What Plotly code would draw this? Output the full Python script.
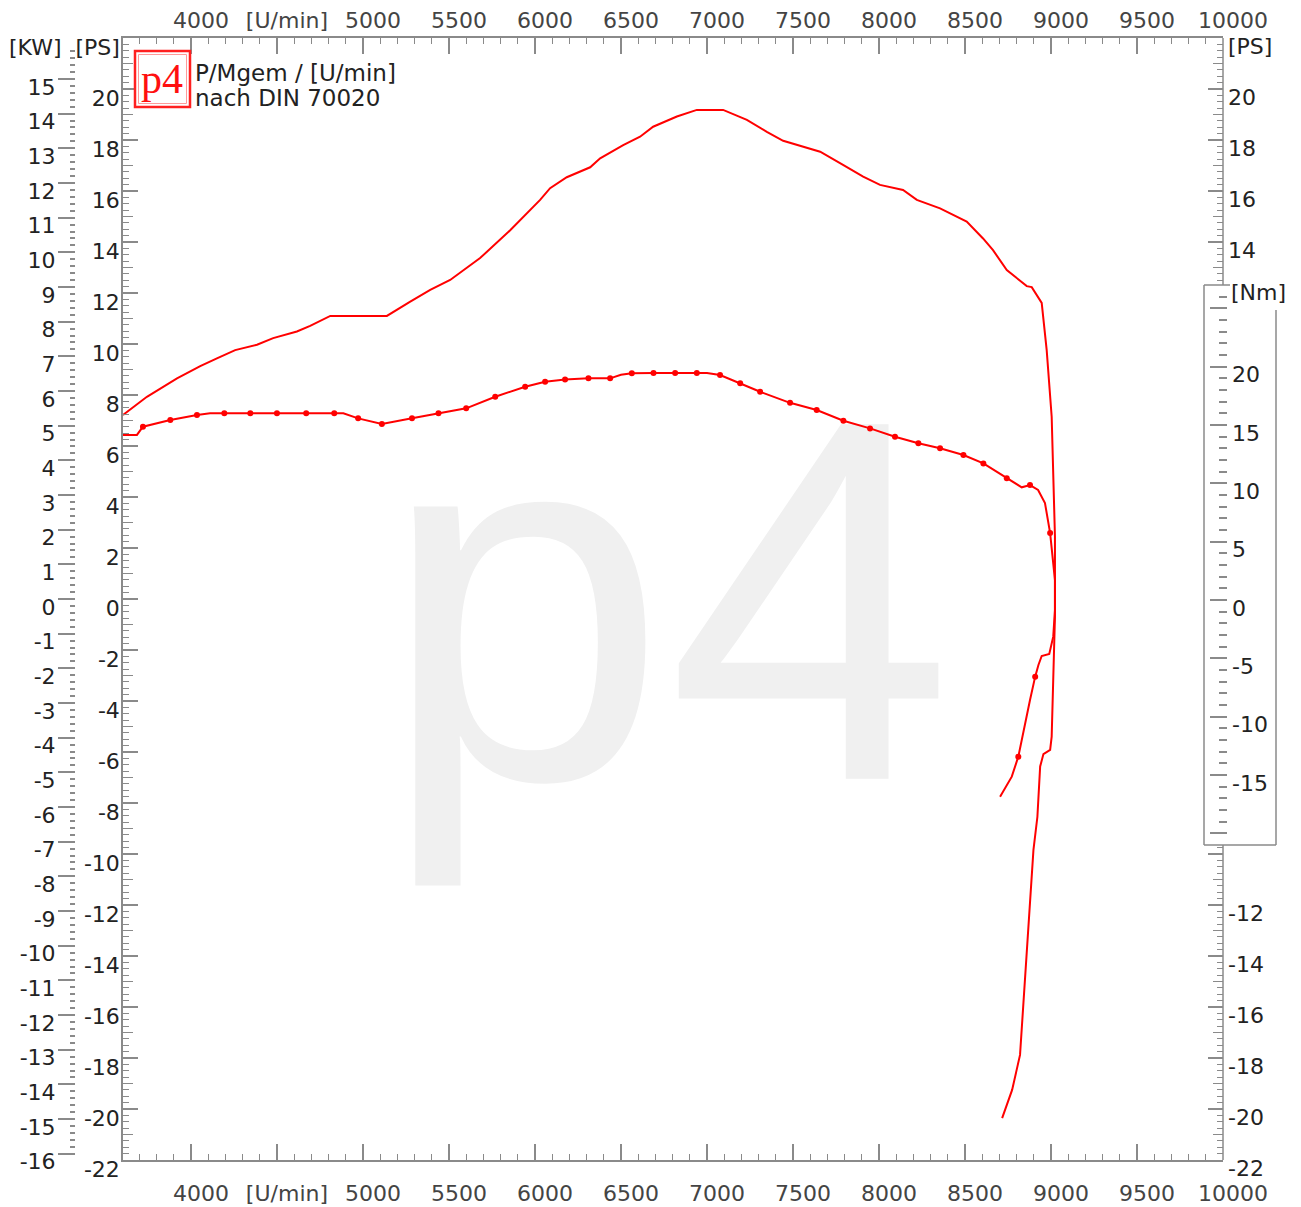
import plotly.graph_objects as go

# ---------------- data ----------------
power_rpm = [3605, 3744, 3919, 4054, 4151, 4257, 4384, 4478, 4616, 4693, 4810, 5139, 5275, 5391,
             5507, 5681, 5856, 6030, 6088, 6185, 6321, 6379, 6513, 6611, 6687, 6825, 6941, 7094,
             7232, 7348, 7443, 7658, 7791, 7908, 8006, 8140, 8220, 8355, 8510, 8605, 8663, 8743,
             8859, 8888, 8946, 8975, 9004, 9023, 9023, 9004, 8995, 8956, 8937, 8921, 8898, 8861,
             8820, 8774, 8716]
power_ps = [7.22, 7.93, 8.65, 9.13, 9.44, 9.76, 9.97, 10.23, 10.49, 10.71, 11.10, 11.10, 11.66, 12.12,
            12.51, 13.37, 14.46, 15.65, 16.11, 16.54, 16.93, 17.28, 17.80, 18.13, 18.52, 18.92, 19.18,
            19.18, 18.79, 18.32, 17.97, 17.54, 17.02, 16.56, 16.24, 16.04, 15.65, 15.32, 14.80, 14.14,
            13.68, 12.90, 12.27, 12.23, 11.61, 9.76, 7.15, 2.45, -0.69, -5.40, -5.92, -6.08, -6.57,
            -8.54, -9.84, -13.76, -17.88, -19.25, -20.36]

torque_rpm = [3605, 3686, 3721, 3880, 4035, 4111, 4194, 4345, 4500, 4670, 4833, 4886, 4972, 5110,
              5285, 5439, 5600, 5769, 5943, 6059, 6175, 6311, 6437, 6500, 6563, 6689, 6815, 6941,
              7000, 7076, 7193, 7309, 7483, 7638, 7793, 7948, 8093, 8229, 8355, 8491, 8607, 8743,
              8830, 8878, 8925, 8965, 8995, 9023, 9023, 9013, 8990, 8946, 8927, 8908, 8878, 8810,
              8772, 8704]
torque_nm = [14.15, 14.15, 14.85, 15.42, 15.85, 16.0, 16.0, 16.0, 16.0, 16.0, 16.0, 16.0, 15.57, 15.08,
             15.57, 16.0, 16.43, 17.42, 18.28, 18.71, 18.9, 19.0, 19.0, 19.3, 19.43, 19.45, 19.45, 19.45,
             19.45, 19.28, 18.57, 17.85, 16.9, 16.28, 15.36, 14.71, 13.99, 13.43, 13.0, 12.43, 11.71,
             10.43, 9.66, 9.85, 9.43, 8.31, 5.74, 1.71, -0.86, -3.14, -4.63, -4.80, -5.57, -6.57,
             -8.57, -13.43, -15.14, -16.86]
# indices of the torque samples that carry a measuring dot
torque_marker_idx = [2, 3, 4, 6, 7, 8, 9, 10, 12, 13, 14, 15, 16, 17, 18, 19, 20, 21, 22, 24, 25, 26,
                     27, 29, 30, 31, 32, 33, 34, 35, 36, 37, 38, 39, 40, 41, 43, 46, 53, 55]

x_major = list(range(4000, 10001, 500))
x_labels = ["4000", "[U/min]", "5000", "5500", "6000", "6500", "7000", "7500", "8000", "8500",
            "9000", "9500", "10000"]
ps_major = list(range(-22, 23, 2))
kw_major = list(range(-16, 16))
nm_major = [25, 20, 15, 10, 5, 0, -5, -10, -15, -20]
nm_labels = ["", "20", "15", "10", "5", "0", "-5", "-10", "-15", ""]

PS_PER_KW = 1.35962
PS_RANGE = [-22.0001, 22.0001]
NM_RANGE = [-21, 27]
RPM_RANGE = [3605, 10000]

# ---------------- layout helpers (pixel -> paper) ----------------
W, H = 1301, 1207
def px(p):
    return p / W
def py(p):
    return 1 - p / H

PLOT_L, PLOT_R, PLOT_T, PLOT_B = 123, 1223, 38, 1160
BOX_L, BOX_R, BOX_T, BOX_B = 1204, 1276, 285, 845

AX = "#8a8a8a"
TXT = "#222222"
FONT = "DejaVu Sans"
FS = 22
YSHIFT = 9

# box region in PS units for the right axis (ticks hidden there)
ps_per_px = (PS_RANGE[1] - PS_RANGE[0]) / (PLOT_B - PLOT_T)
box_ps_top = PS_RANGE[1] - (BOX_T - PLOT_T) * ps_per_px
box_ps_bot = PS_RANGE[1] - (BOX_B - PLOT_T) * ps_per_px
def outside_box(v):
    return v > box_ps_top or v < box_ps_bot

fig = go.Figure()

fig.add_trace(go.Scatter(x=power_rpm, y=power_ps, mode="lines", xaxis="x", yaxis="y",
                         line=dict(color="#ff0000", width=2), showlegend=False, hoverinfo="skip"))
fig.add_trace(go.Scatter(x=torque_rpm, y=torque_nm, mode="lines", xaxis="x", yaxis="y4",
                         line=dict(color="#ff0000", width=2), showlegend=False, hoverinfo="skip"))
fig.add_trace(go.Scatter(x=[torque_rpm[i] for i in torque_marker_idx],
                         y=[torque_nm[i] for i in torque_marker_idx],
                         mode="markers", xaxis="x", yaxis="y4",
                         marker=dict(color="#ff0000", size=6), showlegend=False, hoverinfo="skip"))
# helper traces so every overlay axis is instantiated
for ax in ["y2", "y3", "y5", "y6"]:
    fig.add_trace(go.Scatter(x=[None], y=[None], xaxis="x", yaxis=ax, showlegend=False,
                             hoverinfo="skip"))
fig.add_trace(go.Scatter(x=[None], y=[None], xaxis="x2", yaxis="y", showlegend=False,
                         hoverinfo="skip"))

x_minor = [v for v in range(3700, 10000, 100) if v % 500 != 0]
common_x = dict(range=RPM_RANGE, showgrid=False, zeroline=False, showline=True, linecolor=AX,
                linewidth=1.5, ticks="inside", ticklen=16, tickwidth=1.5, tickcolor=AX,
                tickmode="array", tickvals=x_major, ticktext=x_labels,
                tickfont=dict(family=FONT, size=FS, color="#444444"), ticklabelshift=10,
                minor=dict(tickmode="array", tickvals=x_minor, ticks="inside", ticklen=6,
                           tickcolor=AX, tickwidth=1.2))

ps_minor = [v / 4 for v in range(-88, 89) if v % 4 != 0]
ps_odd = list(range(-21, 22, 2))
ps_labels_left = [str(v) for v in ps_major[:-1]] + ["[PS]"]

layout = dict(
    width=W, height=H,
    margin=dict(l=0, r=0, t=0, b=0, autoexpand=False),
    paper_bgcolor="white", plot_bgcolor="rgba(0,0,0,0)",
    showlegend=False,
    xaxis=dict(common_x, domain=[px(PLOT_L), px(PLOT_R)], anchor="y", side="bottom",
               ticklabelstandoff=13),
    xaxis2=dict(common_x, overlaying="x", anchor="y", side="top", matches="x",
                ticklabelstandoff=-1),
    yaxis=dict(domain=[py(PLOT_B), py(PLOT_T)], range=PS_RANGE, anchor="x", side="left",
               showgrid=False, zeroline=False, showline=True, linecolor=AX, linewidth=1.5,
               ticks="inside", ticklen=15, tickwidth=1.5, tickcolor=AX,
               tickmode="array", tickvals=ps_major, ticktext=ps_labels_left,
               tickfont=dict(family=FONT, size=FS, color=TXT), ticklabelshift=YSHIFT,
               ticklabelstandoff=-3,
               minor=dict(tickmode="array", tickvals=ps_minor, ticks="inside", ticklen=6,
                          tickcolor=AX, tickwidth=1.2)),
    yaxis5=dict(overlaying="y", range=PS_RANGE, anchor="x", side="left", showgrid=False,
                zeroline=False, showline=False, ticks="inside", ticklen=10, tickwidth=1.2,
                tickcolor=AX, tickmode="array", tickvals=ps_odd, showticklabels=False),
    yaxis2=dict(overlaying="y", range=[PS_RANGE[0] / PS_PER_KW, PS_RANGE[1] / PS_PER_KW],
                anchor="free", position=px(75), side="left", showgrid=False, zeroline=False,
                showline=False, ticks="outside", ticklen=17, tickwidth=1.5, tickcolor=AX,
                tickmode="array", tickvals=kw_major, ticktext=[str(v) for v in kw_major],
                tickfont=dict(family=FONT, size=FS, color=TXT), ticklabelshift=YSHIFT - 1,
                ticklabelstandoff=-2,
                minor=dict(tickmode="array",
                           tickvals=[v / 5 for v in range(-80, 81) if v % 5 != 0],
                           ticks="outside", ticklen=5, tickcolor=AX, tickwidth=2)),
    yaxis3=dict(overlaying="y", range=PS_RANGE, anchor="x", side="right", showgrid=False,
                zeroline=False, showline=False, ticks="inside", ticklen=15, tickwidth=1.5,
                tickcolor=AX, tickmode="array",
                tickvals=[v for v in ps_major if outside_box(v)],
                ticktext=[("[PS]" if v == 22 else ("" if v == -10 else str(v)))
                          for v in ps_major if outside_box(v)],
                tickfont=dict(family=FONT, size=FS, color=TXT), ticklabelshift=YSHIFT - 1,
                ticklabelstandoff=4,
                minor=dict(tickmode="array", tickvals=[v for v in ps_minor if outside_box(v)],
                           ticks="inside", ticklen=6, tickcolor=AX, tickwidth=1.2)),
    yaxis6=dict(overlaying="y", range=PS_RANGE, anchor="x", side="right", showgrid=False,
                zeroline=False, showline=False, ticks="inside", ticklen=10, tickwidth=1.2,
                tickcolor=AX, tickmode="array", tickvals=[v for v in ps_odd if outside_box(v)],
                showticklabels=False),
    yaxis4=dict(domain=[py(BOX_B), py(BOX_T)], range=NM_RANGE, anchor="free",
                position=px(1227), side="right", showgrid=False, zeroline=False, showline=False,
                ticks="inside", ticklen=17, tickwidth=1.5, tickcolor=AX, tickmode="array",
                tickvals=nm_major, ticktext=nm_labels,
                tickfont=dict(family=FONT, size=FS, color=TXT), ticklabelshift=YSHIFT - 1,
                ticklabelstandoff=4,
                minor=dict(tickmode="array",
                           tickvals=[v for v in range(-20, 27) if v % 5 != 0],
                           ticks="inside", ticklen=8, tickcolor=AX, tickwidth=1.5)),
)
fig.update_layout(**layout)

shapes = []
def seg(x0, y0, x1, y1, color=AX, width=1.5):
    shapes.append(dict(type="line", xref="paper", yref="paper", x0=px(x0), y0=py(y0),
                       x1=px(x1), y1=py(y1), line=dict(color=color, width=width)))

# right PS axis line (interrupted by the Nm box)
seg(PLOT_R, PLOT_T, PLOT_R, BOX_T)
seg(PLOT_R, BOX_B, PLOT_R, PLOT_B)
# Nm box
seg(BOX_L, BOX_T, BOX_L, BOX_B)
seg(BOX_L, BOX_B, BOX_R, BOX_B)
seg(BOX_L, BOX_T, 1230, BOX_T)
seg(BOX_R, 310, BOX_R, BOX_B)

# watermark (below the curves)
shapes.append(dict(type="rect", xref="paper", yref="paper", layer="below",
                   x0=px(392), x1=px(942), y0=py(828), y1=py(278),
                   line=dict(width=0), fillcolor="rgba(0,0,0,0)",
                   label=dict(text="p4", textposition="middle center",
                              font=dict(family="Liberation Sans", size=515, color="#f0f0f0"))))

# logo box
shapes.append(dict(type="rect", xref="paper", yref="paper", x0=px(135), x1=px(190),
                   y0=py(107), y1=py(51), line=dict(color="#ff2020", width=2.5),
                   fillcolor="white"))
shapes.append(dict(type="rect", xref="paper", yref="paper", x0=px(138.5), x1=px(186.5),
                   y0=py(103.5), y1=py(54.5), line=dict(color="#ff9a9a", width=1)))
fig.update_layout(shapes=shapes)

ann = []
def text(x, y, s, size=FS, color=TXT, xanchor="left", yanchor="middle", family=FONT):
    ann.append(dict(xref="paper", yref="paper", x=px(x), y=py(y), text=s, showarrow=False,
                    xanchor=xanchor, yanchor=yanchor, borderpad=0,
                    font=dict(family=family, size=size, color=color)))

text(162, 79, "p4", size=42, color="#ff1010", xanchor="center", family="Liberation Serif")
text(194, 87, "P/Mgem / [U/min]", size=23, yanchor="bottom")
text(194, 84, "nach DIN 70020", size=23, yanchor="top")
text(63, 48, "[KW]", size=FS, xanchor="right")
text(1230, 292, "[Nm]", size=FS)
fig.update_layout(annotations=ann)

fig.write_html("out.html", config={"displayModeBar": False},
               post_script="document.body.style.margin='0';")
